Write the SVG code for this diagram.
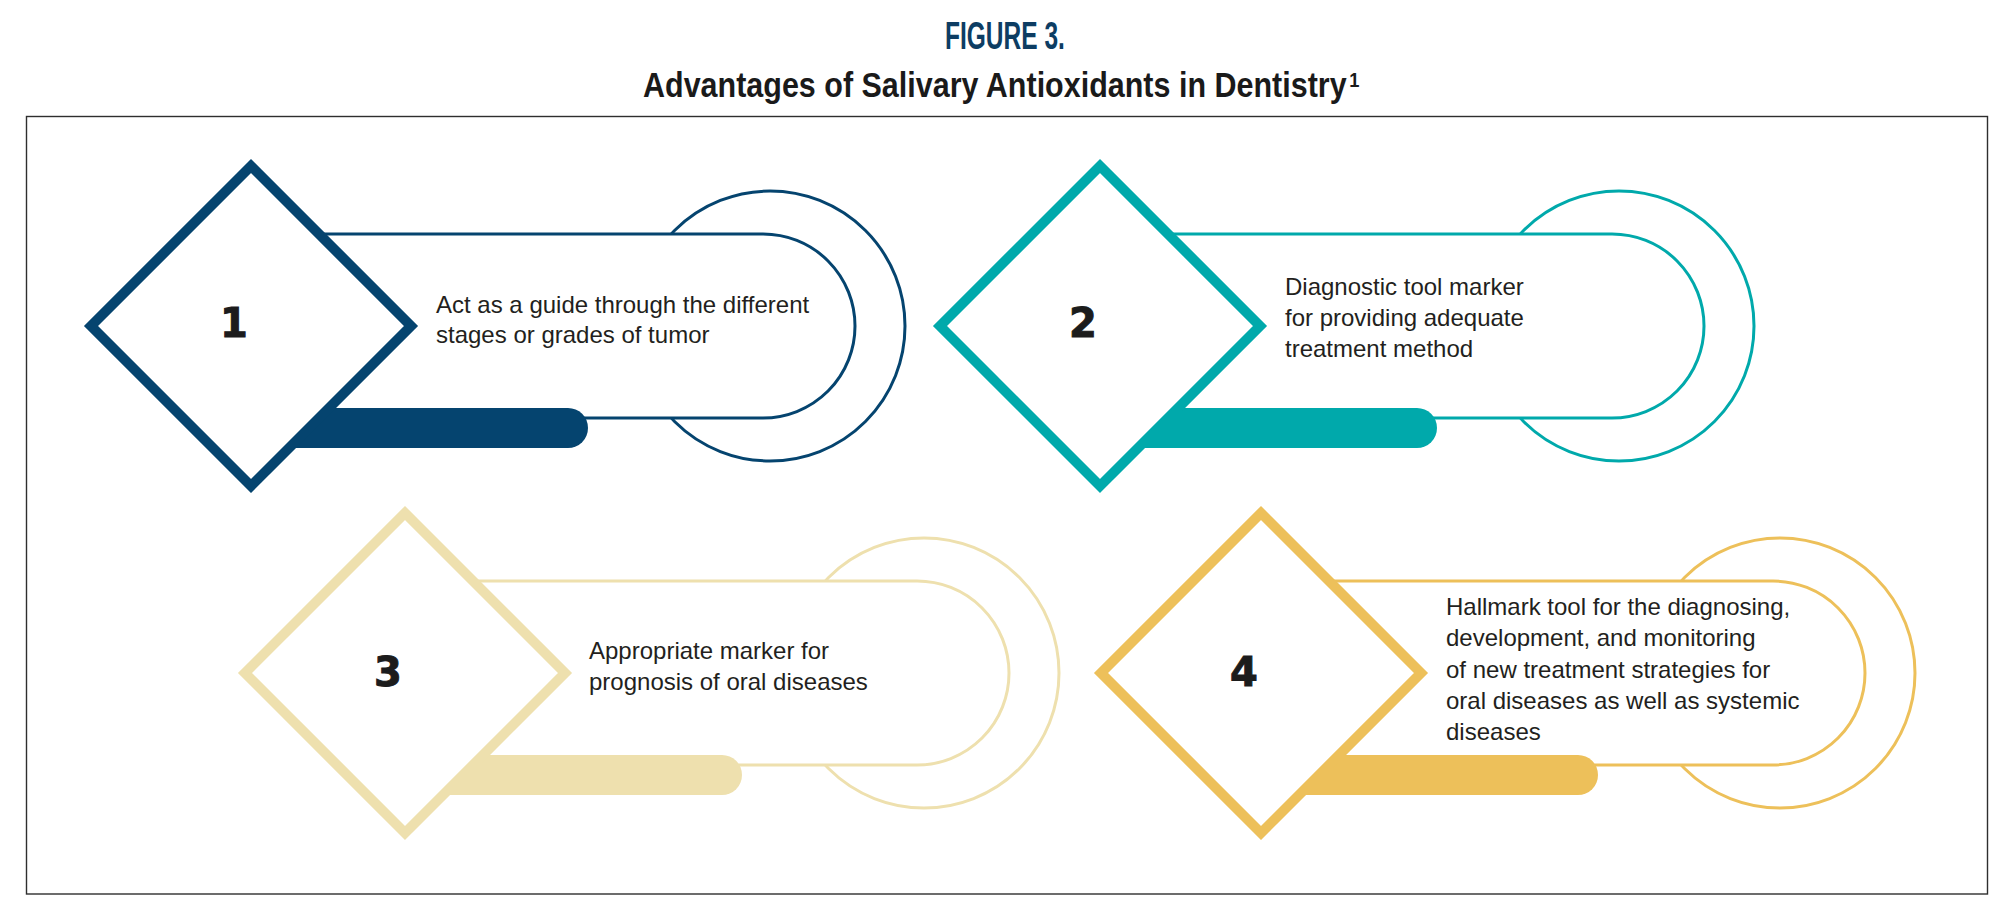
<svg xmlns="http://www.w3.org/2000/svg" width="2002" height="924" viewBox="0 0 2002 924">
<style>
.bg{fill:#ffffff}
.frame{fill:none;stroke:#2e2e2e;stroke-width:1.4}
.ring{fill:none;stroke-width:3}
.pill{fill:#ffffff;stroke-width:3}
.dia{fill:#ffffff;stroke-width:10;stroke-linejoin:miter}
.num{font-family:"DejaVu Sans",sans-serif;font-weight:bold;font-size:40px;fill:#1c1c1c;stroke:#1c1c1c;stroke-width:1;text-anchor:middle}
.lbl{font-family:"Liberation Sans",Arial,sans-serif;font-size:24px;fill:#231f20}
.t1{font-family:"Liberation Sans",Arial,sans-serif;font-weight:bold;font-size:39px;fill:#0d3d63}
.t2{font-family:"Liberation Sans",Arial,sans-serif;font-weight:bold;font-size:35px;fill:#1a1a1a}
.sup{font-size:21px}
.navy{stroke:#05446f}.navyf{fill:#05446f}
.teal{stroke:#00a9ab}.tealf{fill:#00a9ab}
.beige{stroke:#eee0ae}.beigef{fill:#eee0ae}
.gold{stroke:#edc05a}.goldf{fill:#edc05a}
</style>
<rect class="bg" x="0" y="0" width="2002" height="924"/>
<g id="title">
<text class="t1" x="0" y="0" transform="translate(945,49) scale(0.629,1)">FIGURE 3.</text>
<text class="t2" x="0" y="0" transform="translate(643,96.7) scale(0.8715,1)">Advantages of Salivary Antioxidants in Dentistry<tspan class="sup" dx="3" dy="-10">1</tspan></text>
</g>
<rect id="frame" class="frame" x="26.5" y="116.5" width="1961" height="777.5"/>
<g id="connectors"></g>
<g id="node1" transform="translate(251,326)">
<circle class="ring navy" cx="519" cy="0" r="135"/>
<path class="pill navy" d="M0,-92H512A92,92 0 0 1 512,92H0Z"/>
<path class="navyf" d="M0,82H317A20,20 0 0 1 317,122H0Z"/>
<polygon class="dia navy" points="0,-160 160,0 0,160 -160,0"/>
<text class="num" x="-17" y="11">1</text>
<text class="lbl" x="185" y="-13">Act as a guide through the different</text>
<text class="lbl" x="185" y="17">stages or grades of tumor</text>
</g>
<g id="node2" transform="translate(1100,326)">
<circle class="ring teal" cx="519" cy="0" r="135"/>
<path class="pill teal" d="M0,-92H512A92,92 0 0 1 512,92H0Z"/>
<path class="tealf" d="M0,82H317A20,20 0 0 1 317,122H0Z"/>
<polygon class="dia teal" points="0,-160 160,0 0,160 -160,0"/>
<text class="num" x="-17" y="11">2</text>
<text class="lbl" x="185" y="-31">Diagnostic tool marker</text>
<text class="lbl" x="185" y="0">for providing adequate</text>
<text class="lbl" x="185" y="31">treatment method</text>
</g>
<g id="node3" transform="translate(405,673)">
<circle class="ring beige" cx="519" cy="0" r="135"/>
<path class="pill beige" d="M0,-92H512A92,92 0 0 1 512,92H0Z"/>
<path class="beigef" d="M0,82H317A20,20 0 0 1 317,122H0Z"/>
<polygon class="dia beige" points="0,-160 160,0 0,160 -160,0"/>
<text class="num" x="-17" y="13">3</text>
<text class="lbl" x="184" y="-14">Appropriate marker for</text>
<text class="lbl" x="184" y="17">prognosis of oral diseases</text>
</g>
<g id="node4" transform="translate(1261,673)">
<circle class="ring gold" cx="519" cy="0" r="135"/>
<path class="pill gold" d="M0,-92H512A92,92 0 0 1 512,92H0Z"/>
<path class="goldf" d="M0,82H317A20,20 0 0 1 317,122H0Z"/>
<polygon class="dia gold" points="0,-160 160,0 0,160 -160,0"/>
<text class="num" x="-17" y="13">4</text>
<text class="lbl" x="185" y="-58">Hallmark tool for the diagnosing,</text>
<text class="lbl" x="185" y="-27">development, and monitoring</text>
<text class="lbl" x="185" y="5">of new treatment strategies for</text>
<text class="lbl" x="185" y="36">oral diseases as well as systemic</text>
<text class="lbl" x="185" y="67">diseases</text>
</g>
</svg>
